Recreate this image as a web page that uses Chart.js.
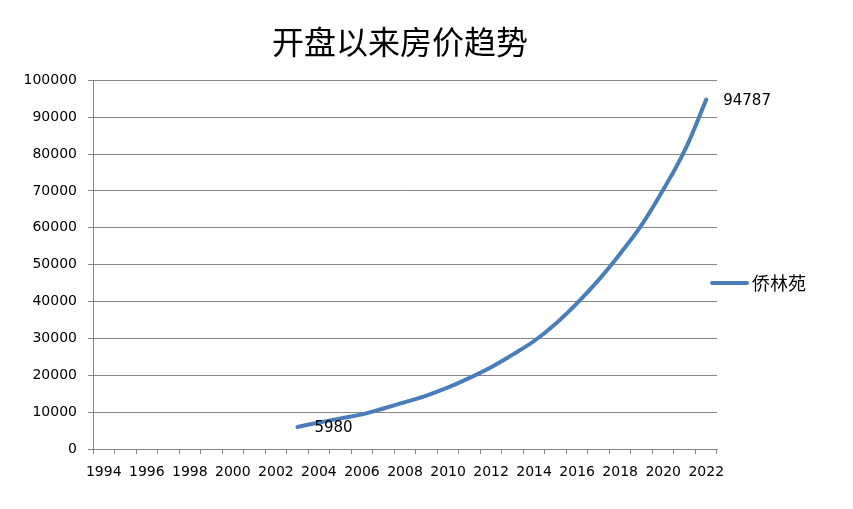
<!DOCTYPE html>
<html lang="zh">
<head>
<meta charset="UTF-8">
<title>开盘以来房价趋势</title>
<script src="https://cdn.jsdelivr.net/npm/chart.js@4.4.0/dist/chart.umd.min.js"></script>
<style>
  html, body { margin: 0; padding: 0; background: #fff; }
  #wrap { width: 853px; height: 509px; }
</style>
</head>
<body>
<div id="wrap"><canvas id="priceChart"></canvas></div>
<script>
// years on the category axis
var years = [1994, 1995, 1996, 1997, 1998, 1999, 2000, 2001, 2002, 2003,
             2004, 2005, 2006, 2007, 2008, 2009, 2010, 2011, 2012, 2013,
             2014, 2015, 2016, 2017, 2018, 2019, 2020, 2021, 2022];
// price per year (no data before 2003)
var prices = [null, null, null, null, null, null, null, null, null, 5980,
              7200, 8300, 9400, 11000, 12700, 14500, 16700, 19300, 22200, 25600,
              29300, 34000, 39600, 45900, 53000, 60800, 70300, 81000, 94787];
var seriesName = '侨林苑';
var yTicks = [0, 10000, 20000, 30000, 40000, 50000, 60000, 70000, 80000, 90000, 100000];

var gridColor = '#868686';
var lineColor = '#4A7EBB';
var axisFont = { family: 'DejaVu Sans', size: 14 };

// labels for first and last point + legend at the right
var extras = {
  id: 'extras',
  afterDatasetsDraw: function(chart) {
    var ctx = chart.ctx;
    var ds = chart.data.datasets[0];
    var meta = chart.getDatasetMeta(0);
    var first = ds.data.findIndex(function(v) { return v !== null; });
    var last = ds.data.length - 1;
    ctx.save();
    ctx.font = '15px "DejaVu Sans"';
    ctx.fillStyle = '#000';
    ctx.textBaseline = 'middle';
    ctx.textAlign = 'left';
    [first, last].forEach(function(i) {
      var pt = meta.data[i];
      ctx.fillText(String(ds.data[i]), pt.x + 17, pt.y + 1);
    });

    var lx = chart.chartArea.right - 5;
    var ly = 283;
    ctx.strokeStyle = ds.borderColor;
    ctx.lineWidth = 4;
    ctx.lineCap = 'round';
    ctx.beginPath();
    ctx.moveTo(lx, ly);
    ctx.lineTo(lx + 35, ly);
    ctx.stroke();
    ctx.font = '18px "Noto Sans CJK SC"';
    ctx.fillText(ds.label, lx + 40, ly);
    ctx.restore();
  }
};

new Chart(document.getElementById('priceChart'), {
  type: 'line',
  data: {
    labels: years,
    datasets: [{
      label: seriesName,
      data: prices,
      borderColor: lineColor,
      backgroundColor: lineColor,
      borderWidth: 4,
      borderCapStyle: 'round',
      pointRadius: 0,
      tension: 0.4,
      fill: false
    }]
  },
  options: {
    responsive: true,
    maintainAspectRatio: false,
    animation: false,
    layout: { padding: { left: 0, right: 53, top: 0, bottom: 0 } },
    plugins: {
      legend: { display: false },
      tooltip: { enabled: false },
      title: {
        display: true,
        text: '开盘以来房价趋势',
        color: '#000',
        font: { family: 'Noto Sans CJK SC', size: 32, weight: 'normal' },
        padding: { top: 23, bottom: 19 }
      }
    },
    scales: {
      x: {
        type: 'category',
        offset: true,
        grid: { display: true, offset: true, drawOnChartArea: false, color: gridColor, tickLength: 5 },
        border: { color: gridColor },
        ticks: {
          autoSkip: false,
          maxRotation: 0,
          color: '#000',
          font: axisFont,
          padding: 10,
          callback: function(v, i) {
            var y = years[i];
            return y % 2 === 0 ? String(y) : '';
          }
        },
        afterFit: function(s) { s.height = 60; }
      },
      y: {
        min: 0,
        max: 100000,
        afterBuildTicks: function(s) { s.ticks = yTicks.map(function(v) { return { value: v }; }); },
        grid: { color: gridColor, tickLength: 5 },
        border: { color: gridColor },
        ticks: { color: '#000', font: axisFont, padding: 11, callback: function(v) { return String(v); } },
        afterFit: function(s) { s.width = 93; }
      },
      // empty right-hand space for the legend and the end label
      side: {
        type: 'linear',
        position: 'right',
        display: true,
        grid: { display: false },
        border: { display: false },
        ticks: { display: false },
        afterFit: function(s) { s.width = 83; }
      }
    }
  },
  plugins: [extras]
});
</script>
</body>
</html>
